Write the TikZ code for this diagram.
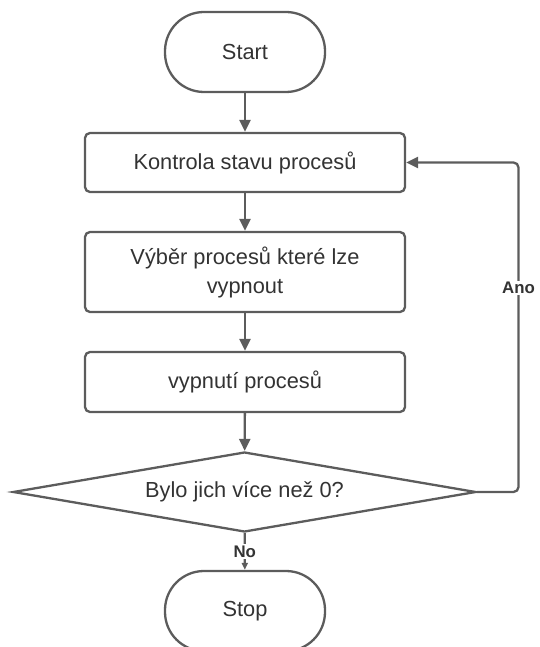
\documentclass[tikz,border=0pt]{standalone}
\usepackage{fontspec}
\setmainfont{Liberation Sans}
\usetikzlibrary{arrows.meta,shapes.geometric}
\definecolor{linegray}{HTML}{5C5C5C}
\definecolor{textgray}{HTML}{333333}

\begin{document}
\begin{tikzpicture}[x=1pt,y=-1pt]
    \tikzset{
        flow/.style={draw=linegray, line width=2.3pt, fill=white, text=textgray,
            font=\fontsize{21.8}{29}\selectfont, align=center, inner sep=0pt},
        terminal/.style={flow, rounded corners=39pt, minimum width=160pt, minimum height=80pt},
        process/.style={flow, rounded corners=5pt, minimum width=320pt},
        decision/.style={flow, diamond, minimum width=463pt, minimum height=80pt, aspect=6},
        link/.style={draw=linegray, line width=2.3pt, rounded corners=5pt,
            -{Triangle[length=12pt, width=11pt]}},
        tag/.style={fill=white, text=textgray, inner sep=1.5pt,
            font=\fontsize{16.8}{18}\selectfont\bfseries}
    }
    \clip (0,0) rectangle (539,647);
    \useasboundingbox (0,0) rectangle (539,647);

    % steps of the flow
    \node[terminal] (start) at (245,52) {Start};
    \node[process, minimum height=59pt] (check) at (245,162.5) {Kontrola stavu procesů};
    \node[process, minimum height=80pt] (choose) at (245,272) {Výběr procesů které lze\\vypnout};
    \node[process, minimum height=60pt] (kill) at (245,382) {vypnutí procesů};
    \node[decision] (more) at (244.5,492) {Bylo jich více než 0?};
    \node[terminal] (stop) at (245,611) {Stop};

    % straight down
    \draw[link] (start) -- (check);
    \draw[link] (check) -- (choose);
    \draw[link] (choose) -- (kill);
    \draw[link] (kill) -- (more);
    \draw[link, -{Triangle[length=7pt, width=6pt]}] (more) -- node[tag] {No} (stop);

    % back loop
    \coordinate (bend) at (518.5,492);
    \draw[link] (more.east) -- (bend) -- (bend |- check.east) -- (check.east);
    \node[tag] (yes) at (518.5,288) {Ano};
\end{tikzpicture}
\end{document}
